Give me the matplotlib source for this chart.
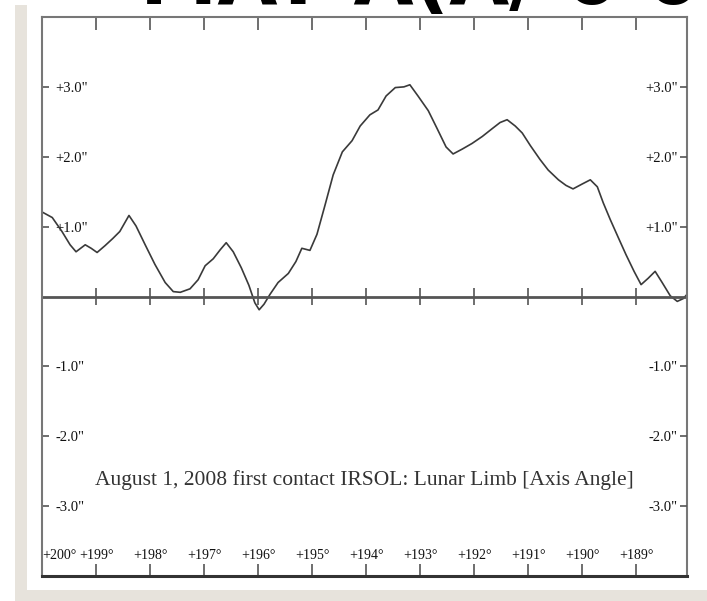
import matplotlib.pyplot as plt
from matplotlib.patches import Rectangle

# limb profile, axis angle (deg) vs height (arcsec)
angle = [200.00, 199.81, 199.63, 199.48, 199.37, 199.20, 199.09, 198.98, 198.83, 198.69,
         198.56, 198.39, 198.26, 198.09, 197.91, 197.72, 197.57, 197.44, 197.26, 197.11,
         196.98, 196.83, 196.70, 196.59, 196.46, 196.31, 196.17, 196.06, 195.98, 195.89,
         195.78, 195.63, 195.44, 195.30, 195.19, 195.04, 194.91, 194.76, 194.61, 194.44,
         194.26, 194.11, 193.93, 193.78, 193.63, 193.46, 193.30, 193.19, 193.04, 192.85,
         192.69, 192.52, 192.39, 192.22, 192.04, 191.85, 191.67, 191.52, 191.39, 191.24,
         191.11, 190.96, 190.78, 190.63, 190.44, 190.30, 190.17, 190.00, 189.85, 189.72,
         189.61, 189.48, 189.33, 189.19, 189.04, 188.91, 188.78, 188.65, 188.52, 188.37,
         188.24, 188.13, 188.06]
height = [1.21, 1.13, 0.93, 0.74, 0.64, 0.74, 0.69, 0.63, 0.73, 0.83,
          0.93, 1.16, 1.01, 0.74, 0.46, 0.20, 0.07, 0.06, 0.11, 0.24,
          0.44, 0.54, 0.67, 0.77, 0.64, 0.41, 0.16, -0.09, -0.19, -0.11,
          0.03, 0.20, 0.33, 0.50, 0.69, 0.66, 0.89, 1.31, 1.74, 2.07,
          2.23, 2.44, 2.60, 2.67, 2.87, 2.99, 3.00, 3.03, 2.87, 2.66,
          2.41, 2.14, 2.04, 2.11, 2.19, 2.29, 2.40, 2.49, 2.53, 2.44,
          2.34, 2.16, 1.96, 1.81, 1.67, 1.59, 1.54, 1.61, 1.67, 1.57,
          1.34, 1.10, 0.84, 0.60, 0.36, 0.17, 0.26, 0.36, 0.20, 0.01,
          -0.07, -0.03, 0.03]

xticks = [200, 199, 198, 197, 196, 195, 194, 193, 192, 191, 190, 189]
xlabels = ['+200°', '+199°', '+198°', '+197°', '+196°', '+195°', '+194°',
           '+193°', '+192°', '+191°', '+190°', '+189°']
yticks = [-3, -2, -1, 1, 2, 3]
ylabels = ['-3.0"', '-2.0"', '-1.0"', '+1.0"', '+2.0"', '+3.0"']
caption = 'August 1, 2008 first contact IRSOL: Lunar Limb [Axis Angle]'

plt.rcParams['font.family'] = 'Liberation Serif'

fig = plt.figure(figsize=(7.07, 6.01), dpi=100)
fig.patch.set_facecolor('white')

# page border
fig.patches.append(Rectangle((15 / 707, 0), 12 / 707, 596 / 601, transform=fig.transFigure,
                             facecolor='#e7e3dc', edgecolor='none', zorder=0))
fig.patches.append(Rectangle((15 / 707, 0), 692 / 707, 11 / 601, transform=fig.transFigure,
                             facecolor='#e7e3dc', edgecolor='none', zorder=0))

# heading, mostly above the top of the page
fig.text(140 / 707, 1 - 4 / 601, 'MAY A(A/', fontsize=56, fontweight='bold',
         family='DejaVu Sans', va='baseline', ha='left', color='black')
fig.text(565 / 707, 1 - 4 / 601, '0 0 7', fontsize=56, fontweight='bold',
         family='DejaVu Sans', va='baseline', ha='left', color='black')

ax = fig.add_axes([42 / 707, 25 / 601, 645 / 707, 559 / 601])
ax.set_xlim(200, 188.06)
ax.set_ylim(-4, 4)

ax.plot(angle, height, color='#3a3a3a', lw=1.2)
ax.axhline(0, color='#555555', lw=2)
ax.vlines(xticks[1:], -0.12, 0.12, color='#555555', lw=1.2)

for side in ['left', 'right', 'top']:
    ax.spines[side].set_color('#777777')
    ax.spines[side].set_linewidth(1.5)
ax.spines['bottom'].set_color('#333333')
ax.spines['bottom'].set_linewidth(2.2)

ax.set_xticks(xticks)
ax.set_xticklabels(xlabels)
ax.tick_params(axis='x', direction='in', length=9, width=1.2, color='#555555',
               top=True, pad=-15, labelsize=10, labelcolor='#111111')
for lab in ax.get_xticklabels():
    lab.set_va('center')
ax.get_xticklabels()[0].set_ha('left')

ax.set_yticks(yticks)
ax.set_yticklabels(ylabels)
ax.tick_params(axis='y', direction='in', length=5, width=1.2, color='#555555',
               pad=-9.4, labelsize=10.5, labelcolor='#111111')
for lab in ax.get_yticklabels():
    lab.set_ha('left')

ax2 = ax.twinx()
ax2.set_ylim(-4, 4)
ax2.set_yticks(yticks)
ax2.set_yticklabels(ylabels)
ax2.tick_params(axis='y', direction='in', length=5, width=1.2, color='#555555',
                pad=-6.5, labelsize=10.5, labelcolor='#111111')
for lab in ax2.get_yticklabels():
    lab.set_ha('right')
for side in ax2.spines:
    ax2.spines[side].set_visible(False)

ax.text(0.5, -2.62, caption, transform=ax.get_yaxis_transform(), ha='center', va='center',
        fontsize=15.5, color='#333333')

fig.savefig('out.png', dpi=100)
